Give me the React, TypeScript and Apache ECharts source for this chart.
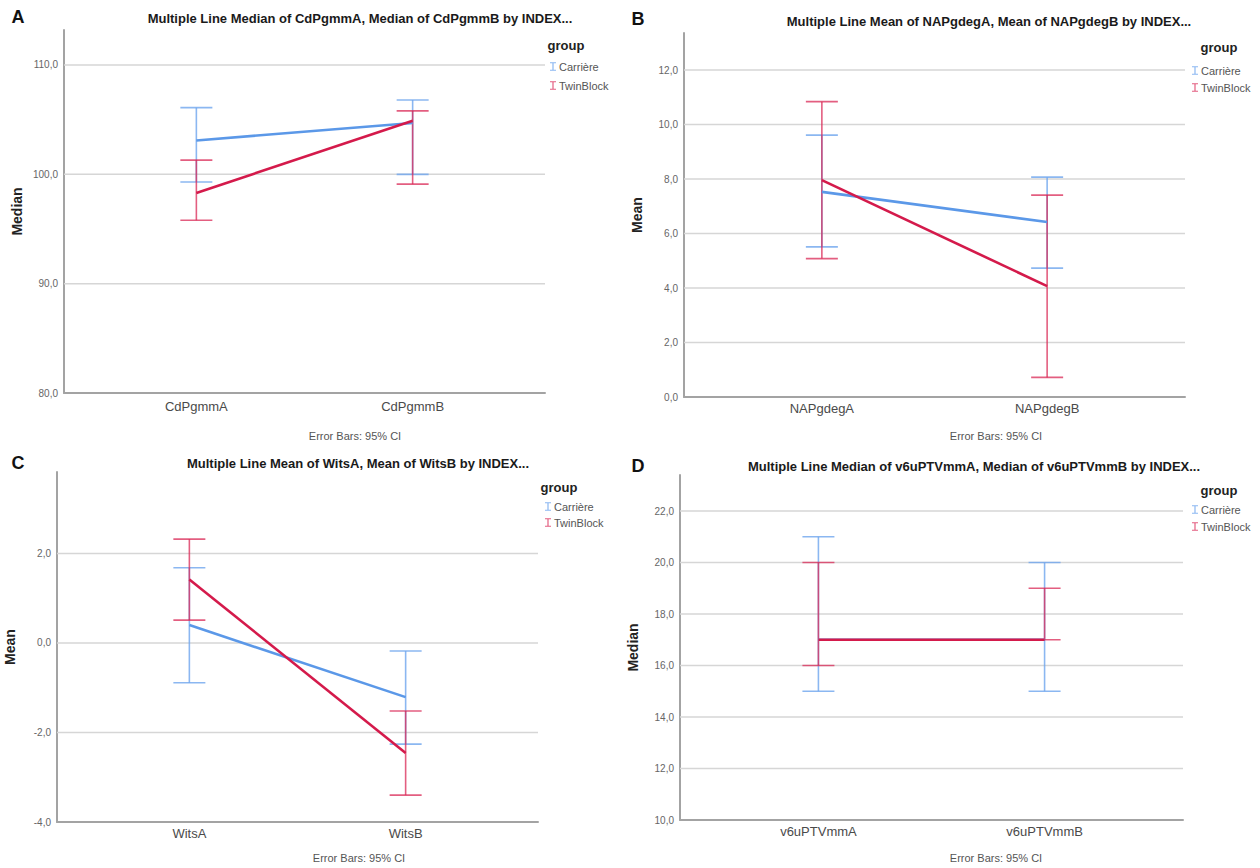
import React, { useEffect, useRef } from "react";
import * as echarts from "echarts";

const FONT = "'Liberation Sans', Arial, Helvetica, sans-serif";
const groups = ["Carrière", "TwinBlock"];

// Panel A
const catsA = ["CdPgmmA", "CdPgmmB"];
const carriereMedA = [103.1, 104.7];
const carriereLowA = [99.3, 100.0];
const carriereHighA = [106.1, 106.8];
const twinMedA = [98.3, 104.9];
const twinLowA = [95.8, 99.1];
const twinHighA = [101.3, 105.8];
const yTicksA = [80, 90, 100, 110];

// Panel B
const catsB = ["NAPgdegA", "NAPgdegB"];
const carriereMeanB = [7.53, 6.42];
const carriereLowB = [5.51, 4.73];
const carriereHighB = [9.61, 8.07];
const twinMeanB = [7.96, 4.07];
const twinLowB = [5.08, 0.72];
const twinHighB = [10.84, 7.41];
const yTicksB = [0, 2, 4, 6, 8, 10, 12];

// Panel C
const catsC = ["WitsA", "WitsB"];
const carriereMeanC = [0.4, -1.21];
const carriereLowC = [-0.89, -2.26];
const carriereHighC = [1.68, -0.18];
const twinMeanC = [1.42, -2.46];
const twinLowC = [0.51, -3.4];
const twinHighC = [2.32, -1.52];
const yTicksC = [-4, -2, 0, 2];

// Panel D
const catsD = ["v6uPTVmmA", "v6uPTVmmB"];
const carriereMedD = [17, 17];
const carriereLowD = [15, 15];
const carriereHighD = [21, 20];
const twinMedD = [17, 17];
const twinLowD = [16, 17];
const twinHighD = [20, 19];
const yTicksD = [10, 12, 14, 16, 18, 20, 22];

const LINE_COLORS = ["#5b98e8", "#d41a4b"];
const ERR_COLORS = ["rgba(110,165,238,0.8)", "rgba(218,40,85,0.75)"];

const panels = [
  {
    letter: "A",
    title: "Multiple Line Median of CdPgmmA, Median of CdPgmmB by INDEX...",
    yName: "Median",
    cats: catsA,
    vals: [carriereMedA, twinMedA],
    lows: [carriereLowA, twinLowA],
    highs: [carriereHighA, twinHighA],
    ticks: yTicksA,
    step: 10,
    yMax: 113.2,
    grid: { left: 64, top: 30, width: 481, height: 363 },
    xMargin: 7,
    titlePos: [360, 18],
    letterPos: [18, 17],
    groupPos: [566, 45],
    legend: { left: 545, top: 56, itemGap: 8 },
    notePos: [355, 436],
  },
  {
    letter: "B",
    title: "Multiple Line Mean of NAPgdegA, Mean of NAPgdegB by INDEX...",
    yName: "Mean",
    cats: catsB,
    vals: [carriereMeanB, twinMeanB],
    lows: [carriereLowB, twinLowB],
    highs: [carriereHighB, twinHighB],
    ticks: yTicksB,
    step: 2,
    yMax: 13.36,
    grid: { left: 684, top: 33, width: 501, height: 364 },
    xMargin: 5,
    titlePos: [989, 21],
    letterPos: [638, 19],
    groupPos: [1219, 47],
    legend: { left: 1187, top: 60, itemGap: 6 },
    notePos: [996, 436],
  },
  {
    letter: "C",
    title: "Multiple Line Mean of WitsA, Mean of WitsB by INDEX...",
    yName: "Mean",
    cats: catsC,
    vals: [carriereMeanC, twinMeanC],
    lows: [carriereLowC, twinLowC],
    highs: [carriereHighC, twinHighC],
    ticks: yTicksC,
    step: 2,
    yMax: 3.82,
    grid: { left: 57, top: 472, width: 481, height: 350 },
    xMargin: 5,
    titlePos: [358, 463],
    letterPos: [18, 463],
    groupPos: [559, 487],
    legend: { left: 540, top: 496, itemGap: 5 },
    notePos: [359, 858],
  },
  {
    letter: "D",
    title: "Multiple Line Median of v6uPTVmmA, Median of v6uPTVmmB by INDEX...",
    yName: "Median",
    cats: catsD,
    vals: [carriereMedD, twinMedD],
    lows: [carriereLowD, twinLowD],
    highs: [carriereHighD, twinHighD],
    ticks: yTicksD,
    step: 2,
    yMax: 23.4,
    grid: { left: 680, top: 475, width: 503, height: 345 },
    xMargin: 5,
    titlePos: [974, 466],
    letterPos: [638, 466],
    groupPos: [1219, 490],
    legend: { left: 1187, top: 499, itemGap: 6 },
    notePos: [996, 858],
  },
];

const I_ICON = "path://M0,0H7V1.3H4.2V8.7H7V10H0V8.7H2.8V1.3H0Z";

function buildOption() {
  const grid: any[] = [];
  const xAxis: any[] = [];
  const yAxis: any[] = [];
  const series: any[] = [];
  const legend: any[] = [];
  const graphic: any[] = [];

  panels.forEach((p, i) => {
    grid.push({ ...p.grid, containLabel: false });
    const cats = p.cats;
    xAxis.push({
      type: "value",
      gridIndex: i,
      min: -0.612,
      max: 1.612,
      splitNumber: 2,
      axisLine: { show: true, onZero: false, lineStyle: { color: "#a3a3a3", width: 2 } },
      axisTick: { show: false },
      splitLine: { show: false },
      axisLabel: {
        margin: p.xMargin,
        fontSize: 13,
        color: "#4a4a4a",
        fontFamily: FONT,
        formatter: (v: number) => {
          const k = Math.round(v);
          return Math.abs(v - k) < 1e-6 && cats[k] !== undefined ? cats[k] : "";
        },
      },
    });
    const step = p.step;
    yAxis.push({
      type: "value",
      gridIndex: i,
      min: p.ticks[0],
      max: p.yMax,
      interval: step,
      axisLine: { show: true, onZero: false, lineStyle: { color: "#a3a3a3", width: 2 } },
      axisTick: { show: false },
      splitLine: { show: false },
      axisLabel: {
        margin: 6,
        fontSize: 10,
        color: "#666",
        fontFamily: FONT,
        showMaxLabel: false,
        formatter: (v: number) => {
          const k = Math.round(v / step);
          return Math.abs(v - k * step) < 1e-6 ? v.toFixed(1).replace(".", ",").replace("-0,0", "0,0") : "";
        },
      },
      name: p.yName,
      nameLocation: "middle",
      nameGap: 40,
      nameTextStyle: { fontSize: 14, fontWeight: "bold", color: "#222", fontFamily: FONT },
    });

    // grid lines
    series.push({
      type: "custom",
      xAxisIndex: i,
      yAxisIndex: i,
      silent: true,
      z: 1,
      data: p.ticks.slice(1).map((t) => [0, t]),
      renderItem: (params: any, api: any) => {
        const cs = params.coordSys;
        const y = api.coord([0, api.value(1)])[1];
        return {
          type: "line",
          shape: { x1: cs.x, y1: y, x2: cs.x + cs.width, y2: y },
          style: { stroke: "#d6d6d6", lineWidth: 1.5 },
        };
      },
    });

    groups.forEach((g, gi) => {
      series.push({
        type: "line",
        name: g,
        xAxisIndex: i,
        yAxisIndex: i,
        z: 5 + gi,
        symbol: "none",
        lineStyle: { width: 2.6, color: LINE_COLORS[gi] },
        itemStyle: { color: ERR_COLORS[gi] },
        data: cats.map((_, j) => [j, p.vals[gi][j]]),
      });
      series.push({
        type: "custom",
        name: g,
        xAxisIndex: i,
        yAxisIndex: i,
        z: 3 + gi,
        itemStyle: { color: ERR_COLORS[gi] },
        encode: { x: 0, y: [1, 2] },
        data: cats.map((_, j) => [j, p.lows[gi][j], p.highs[gi][j]]),
        renderItem: (params: any, api: any) => {
          const x = api.value(0);
          const lo = api.coord([x, api.value(1)]);
          const hi = api.coord([x, api.value(2)]);
          const hw = 16;
          const st = { stroke: ERR_COLORS[gi], lineWidth: 1.6 };
          return {
            type: "group",
            children: [
              { type: "line", shape: { x1: lo[0], y1: lo[1], x2: hi[0], y2: hi[1] }, style: st },
              { type: "line", shape: { x1: lo[0] - hw, y1: lo[1], x2: lo[0] + hw, y2: lo[1] }, style: st },
              { type: "line", shape: { x1: hi[0] - hw, y1: hi[1], x2: hi[0] + hw, y2: hi[1] }, style: st },
            ],
          };
        },
      });
    });

    legend.push({
      orient: "vertical",
      left: p.legend.left,
      top: p.legend.top,
      itemGap: p.legend.itemGap,
      itemWidth: 6,
      itemHeight: 10,
      icon: I_ICON,
      selectedMode: false,
      data: groups,
      textStyle: { fontSize: 11, color: "#555", fontFamily: FONT, padding: [0, 0, 0, -2] },
    });

    graphic.push(
      {
        type: "text",
        x: p.letterPos[0],
        y: p.letterPos[1],
        style: { text: p.letter, font: `bold 18px ${FONT}`, fill: "#111", textAlign: "center", textVerticalAlign: "middle" },
      },
      {
        type: "text",
        x: p.titlePos[0],
        y: p.titlePos[1],
        style: { text: p.title, font: `bold 13px ${FONT}`, fill: "#1a1a1a", textAlign: "center", textVerticalAlign: "middle" },
      },
      {
        type: "text",
        x: p.groupPos[0],
        y: p.groupPos[1],
        style: { text: "group", font: `bold 13px ${FONT}`, fill: "#222", textAlign: "center", textVerticalAlign: "middle" },
      },
      {
        type: "text",
        x: p.notePos[0],
        y: p.notePos[1],
        style: { text: "Error Bars: 95% CI", font: `11px ${FONT}`, fill: "#555", textAlign: "center", textVerticalAlign: "middle" },
      }
    );
  });

  return {
    animation: false,
    backgroundColor: "#ffffff",
    textStyle: { fontFamily: FONT },
    grid,
    xAxis,
    yAxis,
    series,
    legend,
    graphic,
  };
}

export default function App() {
  const ref = useRef<HTMLDivElement>(null);
  useEffect(() => {
    if (!ref.current) return;
    const chart = echarts.init(ref.current, undefined, { renderer: "svg" });
    chart.setOption(buildOption() as any);
    return () => chart.dispose();
  }, []);
  return (
    <div
      ref={ref}
      style={{ position: "absolute", left: 0, top: 0, width: 1260, height: 868, background: "#fff" }}
    />
  );
}
